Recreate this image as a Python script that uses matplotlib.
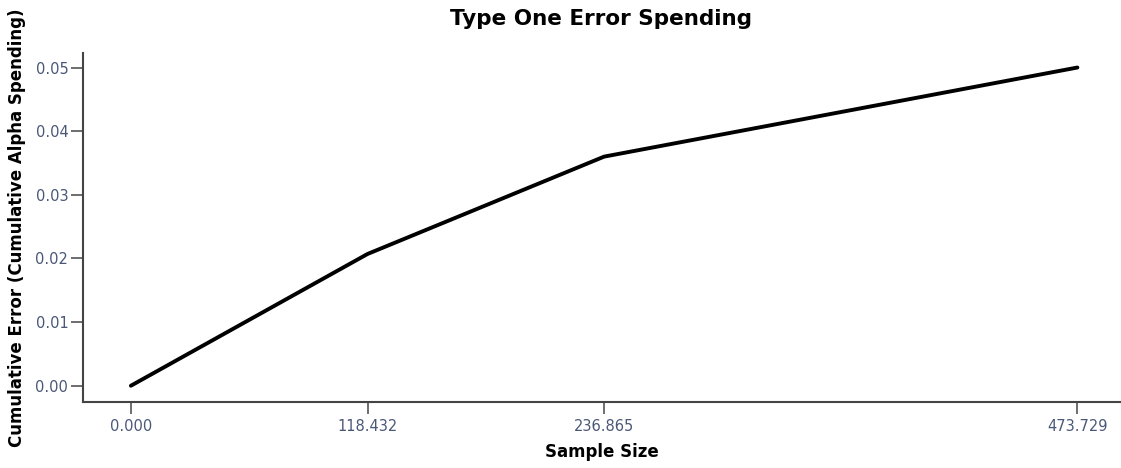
import numpy as np
import matplotlib.pyplot as plt

# look values at the interim analyses
sample_size = [0.000, 118.432, 236.865, 473.729]
alpha_spent = [0.0, 0.0207, 0.0360, 0.0500]
x_ticks = [0.000, 118.432, 236.865, 473.729]
y_ticks = [0.00, 0.01, 0.02, 0.03, 0.04, 0.05]

plt.rcParams['font.family'] = 'DejaVu Sans'

fig = plt.figure(figsize=(11.21, 4.68), dpi=100)
ax = fig.add_axes([0.074, 0.141, 0.925, 0.746])

ax.plot(sample_size, alpha_spent, color="black", lw=2.8, solid_capstyle="round")

ax.set_xlim(-24, 495)
ax.set_ylim(-0.00256, 0.0523)
ax.set_xticks(x_ticks)
ax.set_xticklabels(["%.3f" % v for v in x_ticks])
ax.set_yticks(y_ticks)
ax.set_yticklabels(["%.2f" % v for v in y_ticks])

for s in ["top", "right"]:
    ax.spines[s].set_visible(False)
for s in ["left", "bottom"]:
    ax.spines[s].set_color("#444444")
    ax.spines[s].set_linewidth(1.5)

ax.tick_params(axis="both", length=8.5, width=1.2, color="#555555",
               labelcolor="#4a5878", labelsize=10.5)
ax.tick_params(axis="x", pad=4)
ax.tick_params(axis="y", pad=2)

ax.set_title("Type One Error Spending", fontsize=15.5, fontweight="bold", pad=20)
ax.set_xlabel("Sample Size", fontsize=12, fontweight="bold", labelpad=6)
ax.set_ylabel("Cumulative Error (Cumulative Alpha Spending)", fontsize=12,
              fontweight="bold", labelpad=7)

fig.savefig("out.png", dpi=100)
